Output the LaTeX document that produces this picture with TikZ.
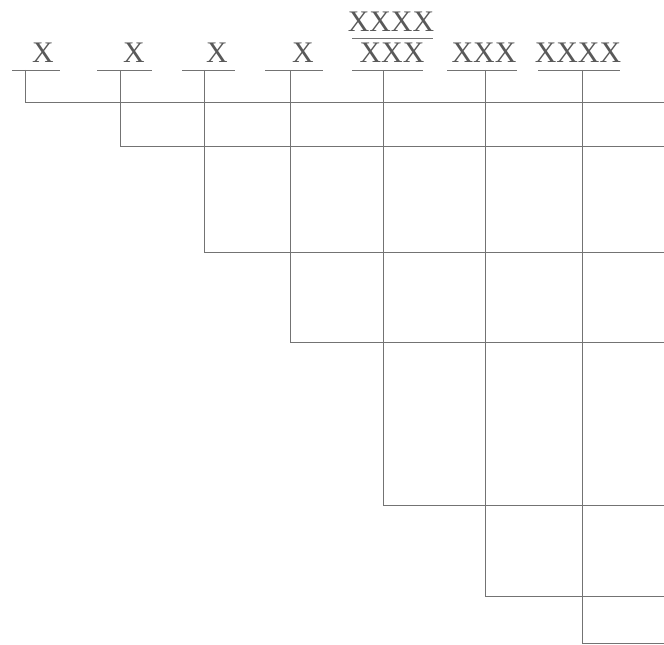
\documentclass[tikz,border=0pt]{standalone}
\usepackage{fontspec}
\setmainfont{Liberation Serif}
\begin{document}
\begin{tikzpicture}[
    x=0.02cm, y=-0.02cm,
    lbl/.style={anchor=base, inner sep=0pt, text=black!65,
                font=\fontsize{17}{19}\selectfont},
    wire/.style={draw=black!55, line width=0.5pt},
  ]
    \useasboundingbox (0,0) rectangle (664,645);

    % labels
    \node[lbl] (x1) at (43,63)  {X};
    \node[lbl] (x2) at (134,63) {X};
    \node[lbl] (x3) at (217,63) {X};
    \node[lbl] (x4) at (303,63) {X};
    \node[lbl] (num5) at (391,32) {XXXX};
    \node[lbl] (x5) at (392,63) {XXX};
    \node[lbl] (x6) at (484,63) {XXX};
    \node[lbl] (x7) at (578,63) {XXXX};

    % underlines and fraction bar
    \draw[wire] (12,70) -- (60,70);
    \draw[wire] (97,70) -- (152,70);
    \draw[wire] (182,70) -- (235,70);
    \draw[wire] (265,70) -- (323,70);
    \draw[wire] (352,38) -- (433,38);
    \draw[wire] (352,70) -- (423,70);
    \draw[wire] (447,70) -- (517,70);
    \draw[wire] (538,70) -- (620,70);

    % taps on the underlines
    \coordinate (t1) at (25,70);
    \coordinate (t2) at (120,70);
    \coordinate (t3) at (204,70);
    \coordinate (t4) at (290,70);
    \coordinate (t5) at (383,70);
    \coordinate (t6) at (485,70);
    \coordinate (t7) at (582,70);

    % ends at the right edge
    \coordinate (e1) at (664,102);
    \coordinate (e2) at (664,146);
    \coordinate (e3) at (664,252);
    \coordinate (e4) at (664,342);
    \coordinate (e5) at (664,505);
    \coordinate (e6) at (664,596);
    \coordinate (e7) at (664,643);

    \draw[wire] (t1) |- (e1);
    \draw[wire] (t2) |- (e2);
    \draw[wire] (t3) |- (e3);
    \draw[wire] (t4) |- (e4);
    \draw[wire] (t5) |- (e5);
    \draw[wire] (t6) |- (e6);
    \draw[wire] (t7) |- (e7);
\end{tikzpicture}
\end{document}
